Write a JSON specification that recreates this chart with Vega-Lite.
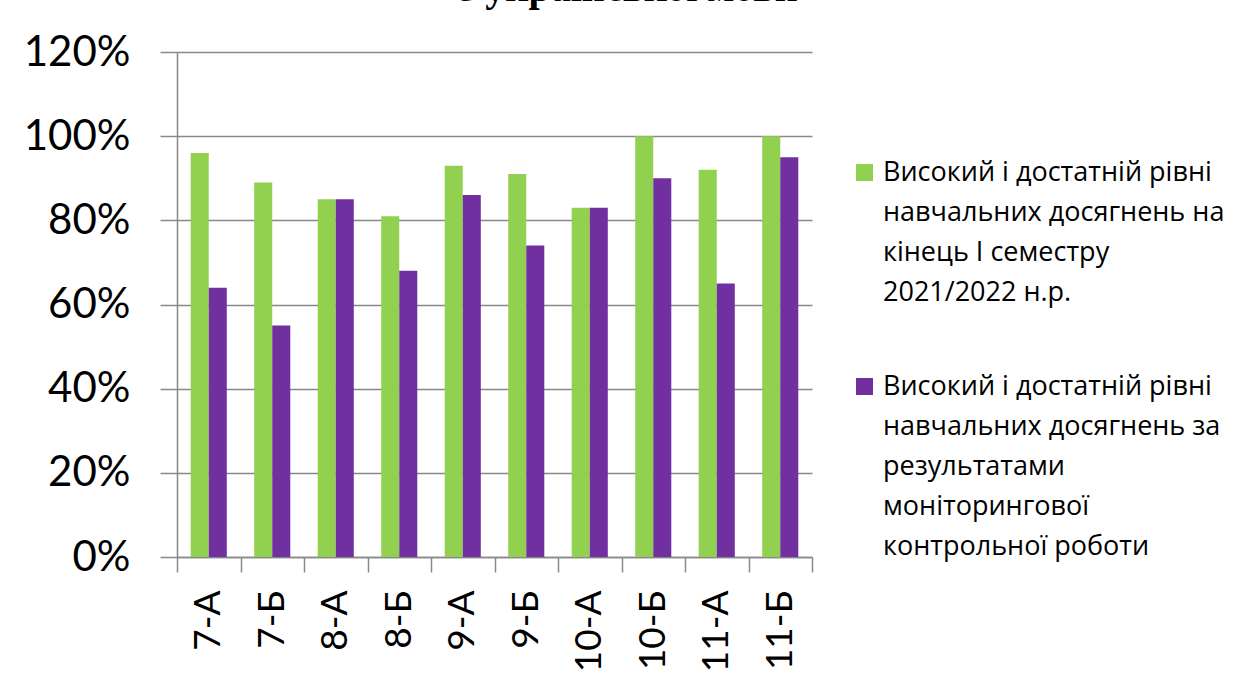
{
  "$schema": "https://vega.github.io/schema/vega-lite/v6.json",
  "width": 635,
  "height": 505,
  "autosize": {"type": "none"},
  "padding": {"left": 177, "top": 52, "right": 433, "bottom": 131},
  "background": "white",
  "title": {
    "text": "з української мови",
    "font": "Liberation Serif",
    "fontSize": 40,
    "fontWeight": "bold",
    "color": "black",
    "anchor": "middle",
    "frame": "group",
    "baseline": "alphabetic",
    "offset": 5,
    "dx": 134,
    "dy": 15
  },
  "data": {
    "values": [
      {"class": "7-А", "series": "s1", "value": 0.96},
      {"class": "7-А", "series": "s2", "value": 0.64},
      {"class": "7-Б", "series": "s1", "value": 0.89},
      {"class": "7-Б", "series": "s2", "value": 0.55},
      {"class": "8-А", "series": "s1", "value": 0.85},
      {"class": "8-А", "series": "s2", "value": 0.85},
      {"class": "8-Б", "series": "s1", "value": 0.81},
      {"class": "8-Б", "series": "s2", "value": 0.68},
      {"class": "9-А", "series": "s1", "value": 0.93},
      {"class": "9-А", "series": "s2", "value": 0.86},
      {"class": "9-Б", "series": "s1", "value": 0.91},
      {"class": "9-Б", "series": "s2", "value": 0.74},
      {"class": "10-А", "series": "s1", "value": 0.83},
      {"class": "10-А", "series": "s2", "value": 0.83},
      {"class": "10-Б", "series": "s1", "value": 1.0},
      {"class": "10-Б", "series": "s2", "value": 0.90},
      {"class": "11-А", "series": "s1", "value": 0.92},
      {"class": "11-А", "series": "s2", "value": 0.65},
      {"class": "11-Б", "series": "s1", "value": 1.0},
      {"class": "11-Б", "series": "s2", "value": 0.95}
    ]
  },
  "mark": {"type": "bar"},
  "encoding": {
    "x": {
      "field": "class",
      "type": "nominal",
      "sort": ["7-А", "7-Б", "8-А", "8-Б", "9-А", "9-Б", "10-А", "10-Б", "11-А", "11-Б"],
      "scale": {"paddingInner": 0, "paddingOuter": 0},
      "axis": {
        "title": null,
        "tickBand": "extent",
        "tickSize": 15,
        "tickColor": "#898989",
        "tickWidth": 1.5,
        "domainColor": "#898989",
        "domainWidth": 1.5,
        "labelAngle": -90,
        "labelAlign": "right",
        "labelBaseline": "middle",
        "labelFont": "Lato",
        "labelFontSize": 37,
        "labelColor": "black",
        "labelPadding": 18,
        "grid": false
      }
    },
    "xOffset": {
      "field": "series",
      "type": "nominal",
      "sort": ["s1", "s2"],
      "scale": {"paddingInner": 0, "paddingOuter": 0.76}
    },
    "y": {
      "field": "value",
      "type": "quantitative",
      "scale": {"domain": [0, 1.2], "nice": false},
      "axis": {
        "title": null,
        "values": [0, 0.2, 0.4, 0.6, 0.8, 1.0, 1.2],
        "format": ".0%",
        "tickSize": 17,
        "tickColor": "#898989",
        "tickWidth": 1.5,
        "domainColor": "#898989",
        "domainWidth": 1.5,
        "gridColor": "#898989",
        "gridWidth": 1.5,
        "labelFont": "Lato",
        "labelFontSize": 42,
        "labelColor": "black",
        "labelPadding": 30
      }
    },
    "color": {
      "field": "series",
      "type": "nominal",
      "scale": {"domain": ["s1", "s2"], "range": ["#92D050", "#7030A0"]},
      "legend": {
        "title": null,
        "orient": "none",
        "legendX": 674,
        "legendY": 115,
        "symbolType": "M-1,-1.94L1,-1.94L1,0.06L-1,0.06Z",
        "symbolSize": 289,
        "symbolStrokeWidth": 0,
        "labelFont": "Open Sans",
        "labelFontSize": 27,
        "labelColor": "black",
        "labelLimit": 0,
        "labelBaseline": "alphabetic",
        "labelOffset": 5,
        "rowPadding": 66,
        "labelExpr": "datum.label == 's1' ? ['Високий і достатній рівні', 'навчальних досягнень на', 'кінець І семестру', '2021/2022 н.р.'] : ['Високий і достатній рівні', 'навчальних досягнень за', 'результатами', 'моніторингової', 'контрольної роботи']"
      }
    }
  },
  "config": {
    "view": {"stroke": null},
    "style": {"guide-label": {"lineHeight": 40}}
  }
}
